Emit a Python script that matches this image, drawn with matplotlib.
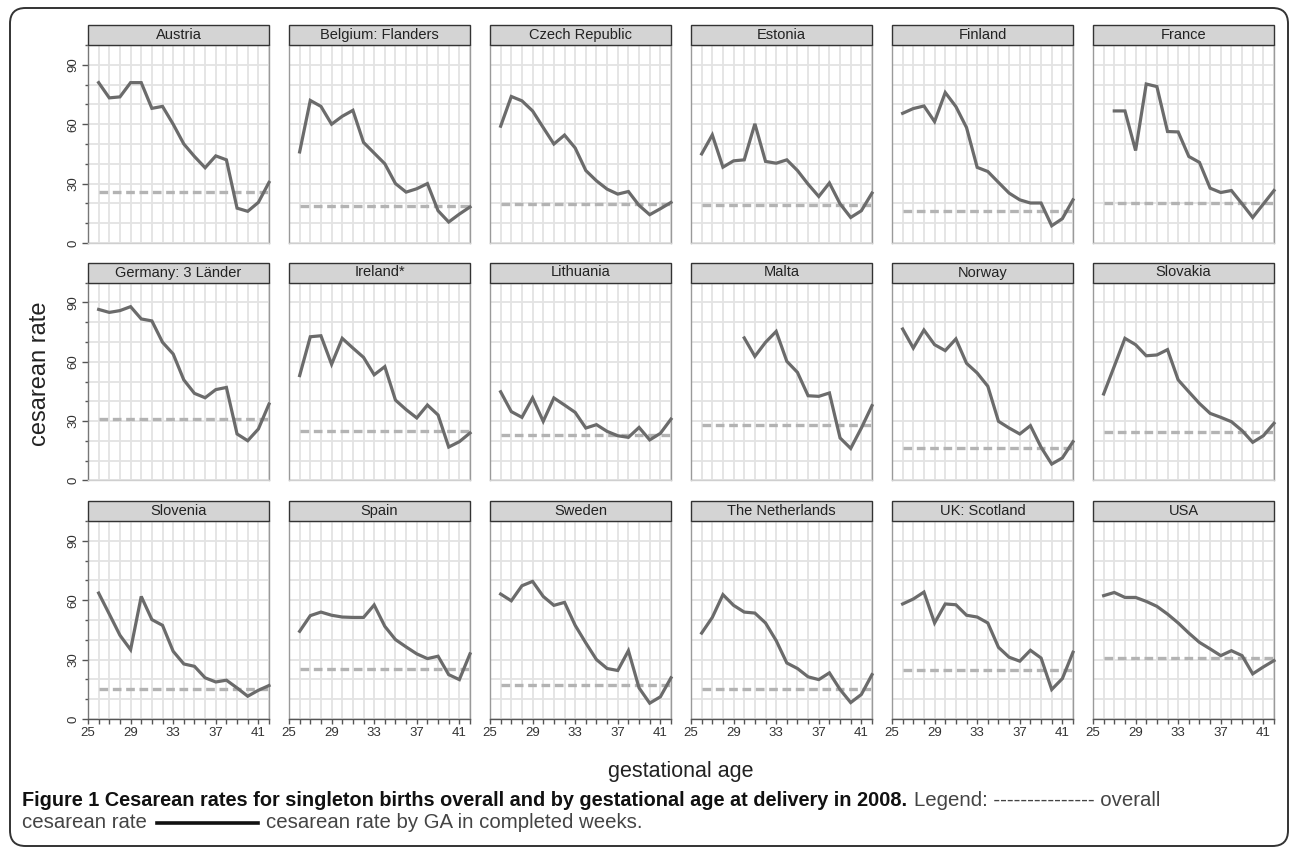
import matplotlib
matplotlib.use("Agg")
import matplotlib.pyplot as plt
from matplotlib.patches import Rectangle, FancyBboxPatch
from matplotlib.lines import Line2D
import numpy as np

nan = np.nan
weeks = list(range(26, 43))

countries = ["Austria", "Belgium: Flanders", "Czech Republic", "Estonia", "Finland", "France",
             "Germany: 3 Länder", "Ireland*", "Lithuania", "Malta", "Norway", "Slovakia",
             "Slovenia", "Spain", "Sweden", "The Netherlands", "UK: Scotland", "USA"]

austria = [81, 73.3, 73.8, 81, 81, 68, 69, 60, 50, 43.7, 38, 44, 42, 17.6, 16, 20.5, 30.6]
belgium = [46, 72, 69, 60, 64, 67, 50.8, 45.4, 40, 30, 25.7, 27.4, 30, 16.3, 10.6, 14.6, 18.2]
czech = [59, 74, 71.8, 66.7, 58.3, 50, 54.5, 48, 36.6, 31.4, 27.2, 24.7, 26, 19, 14.3, 17.3, 20.5]
estonia = [45, 54.6, 38.3, 41.5, 42, 60.2, 41.2, 40.3, 42, 36.6, 29.7, 23.5, 30.3, 19.8, 12.9, 16.3, 25.2]
finland = [65.5, 67.9, 69.2, 61.3, 76, 68.9, 58.3, 38.2, 36.1, 30.6, 25.2, 21.8, 20.2, 20.2, 8.7, 12.3, 21.8]
france = [nan, 66.7, 66.7, 46.7, 80.3, 79, 56.3, 56.1, 43.7, 40.7, 27.7, 25.5, 26.5, 19.8, 12.9, 19.7, 26.5]
germany = [86.4, 84.9, 85.8, 87.8, 81.6, 80.6, 69.8, 63.9, 50.8, 44, 41.8, 45.9, 47, 23.5, 20.1, 26, 38.6]
ireland = [53, 72.6, 73.1, 58.7, 71.8, 66.9, 62.2, 53.4, 57.5, 40.6, 35.8, 31.6, 38.1, 33.1, 16.9, 19.6, 24]
lithuania = [44.8, 34.8, 31.9, 41.7, 29.9, 41.7, 38.1, 34.4, 26.5, 28.2, 24.8, 22.6, 21.8, 26.8, 20.5, 23.8, 31]
malta = [nan, nan, nan, nan, 72, 62.7, 69.8, 75.3, 60.2, 54.6, 42.8, 42.5, 44.2, 21.5, 16.2, 26.5, 37.8]
norway = [76.5, 66.9, 76, 68.6, 65.6, 71.5, 59.2, 54.3, 47.6, 29.9, 26.5, 23.5, 27.7, 16.8, 8.3, 11.4, 19.6]
slovakia = [43.7, 57.7, 71.8, 68.6, 63, 63.4, 66.1, 50.8, 44.8, 38.9, 33.9, 31.9, 29.7, 25.2, 19.3, 22.6, 28.9]
slovenia = [63.6, 53, 42.3, 35, 61.9, 50.2, 47.3, 34.2, 27.8, 26.6, 20.8, 18.7, 19.6, 15.7, 11.5, 14.5, 16.9]
spain = [44.3, 52.2, 54, 52.4, 51.5, 51.3, 51.3, 57.6, 46.8, 40.1, 36.4, 32.9, 30.5, 31.7, 22.4, 19.9, 32.9]
sweden = [63.1, 59.7, 67.3, 69.5, 61.9, 57.4, 58.9, 47.3, 38.4, 30, 25.5, 24.5, 34.5, 15.7, 8, 11.2, 20.8]
netherlands = [43.4, 51.3, 62.8, 57.4, 54, 53.5, 48.5, 39.6, 28.3, 25.5, 21.3, 19.9, 23.3, 14.9, 8.3, 12.4, 22.4]
scotland = [58.1, 60.6, 64.1, 48.5, 58.1, 57.7, 52.4, 51.5, 48.5, 36.2, 31.2, 29.2, 34.7, 30.8, 14.9, 20.4, 33.7]
usa = [62.3, 63.9, 61.4, 61.4, 59.4, 56.9, 53, 48.5, 43.4, 38.7, 35.4, 32, 34.5, 32, 22.8, 26.3, 29.5]

series = [austria, belgium, czech, estonia, finland, france, germany, ireland, lithuania,
          malta, norway, slovakia, slovenia, spain, sweden, netherlands, scotland, usa]

overall = [25.9, 18.7, 19.7, 19.0, 16.3, 20.2, 31.0, 25.2, 23.0, 28.2, 16.4, 24.7,
           15.4, 25.5, 17.0, 14.9, 25.0, 30.8]

x_ticklabels = [25, 29, 33, 37, 41]
y_ticklabels = [0, 30, 60, 90]

W, H = 1290, 848
plt.rcParams["font.family"] = ["Liberation Sans", "DejaVu Sans"]
fig = plt.figure(figsize=(W / 100, H / 100), dpi=100)

col_left = [88, 289, 490, 691, 892, 1093]
panel_w = 181
row_top = [45, 282.5, 521]
panel_h = 198
strip_h = 20

SOLID = "#6b6b6b"
DASH = "#b3b3b3"
GRID = "#e3e3e3"

for i, (name, vals, ov) in enumerate(zip(countries, series, overall)):
    r, c = divmod(i, 6)
    ax = fig.add_axes([col_left[c] / W, 1 - (row_top[r] + panel_h) / H, panel_w / W, panel_h / H])
    ax.set_xlim(25, 42)
    ax.set_ylim(0, 100)
    ax.set_xticks(range(25, 43))
    ax.set_yticks(range(0, 101, 10))
    ax.grid(True, color=GRID, lw=1.3, zorder=0)
    ax.set_axisbelow(True)
    v = np.array(vals, dtype=float)
    ok = ~np.isnan(v)
    ax.plot([weeks[0], weeks[-1]], [ov, ov], color=DASH, lw=2.4, dashes=(2.6, 1.4),
            solid_capstyle="butt", dash_capstyle="butt", zorder=3)
    ax.plot(np.array(weeks)[ok], v[ok], color=SOLID, lw=2.3, zorder=4,
            solid_joinstyle="miter", clip_on=False)
    for s in ["left", "right"]:
        ax.spines[s].set_color("#9a9a9a")
        ax.spines[s].set_linewidth(1.0)
    for s in ["top", "bottom"]:
        ax.spines[s].set_color("#cfcfcf")
        ax.spines[s].set_linewidth(1.0)
    ax.add_patch(Rectangle((0, 1), 1, strip_h / panel_h, transform=ax.transAxes,
                           facecolor="#d4d4d4", edgecolor="#333333", lw=1.0, clip_on=False, zorder=5))
    ax.text(0.5, 1 + strip_h / panel_h / 2, name, transform=ax.transAxes, ha="center",
            va="center", fontsize=10.5, color="#222222", zorder=6)
    if c == 0:
        ax.spines["left"].set_color("#777777")
        ax.set_yticks([0, 30, 60, 90])
        ax.set_yticklabels([str(t) for t in y_ticklabels], rotation=90, va="center")
        ax.set_yticks(range(0, 101, 10), minor=True)
        ax.tick_params(axis="y", which="major", length=4, width=1, color="#555555",
                       labelsize=9.5, labelcolor="#333333", pad=2)
        ax.tick_params(axis="y", which="minor", length=2.5, width=1, color="#555555")
        ax.yaxis.grid(True, which="minor", color=GRID, lw=1.3)
    else:
        ax.tick_params(axis="y", which="both", length=0, labelleft=False)
    if r == 2:
        ax.spines["bottom"].set_color("#555555")
        ax.set_xticks(x_ticklabels)
        ax.set_xticklabels([str(t) for t in x_ticklabels])
        ax.set_xticks(range(25, 43), minor=True)
        ax.tick_params(axis="x", which="major", length=3.5, width=1, color="#555555",
                       labelsize=9.5, labelcolor="#333333", pad=2)
        ax.tick_params(axis="x", which="minor", length=3.5, width=1, color="#555555")
        ax.xaxis.grid(True, which="minor", color=GRID, lw=1.3)
    else:
        ax.tick_params(axis="x", which="both", length=0, labelbottom=False)

fig.text(40 / W, 1 - 374 / H, "cesarean rate", rotation=90, ha="center", va="center",
         fontsize=17, color="#222222")
fig.text(681 / W, 1 - 772 / H, "gestational age", ha="center", va="center",
         fontsize=15.5, color="#222222")

fig.patches.append(FancyBboxPatch((10 / W, 2 / H), 1278 / W, 838 / H,
                                  boxstyle="round,pad=0,rounding_size=0.012",
                                  transform=fig.transFigure, facecolor="none",
                                  edgecolor="#333333", lw=1.4, mutation_aspect=W / H))

# caption (sizes fitted to the reference text extents)
cap_font = "Liberation Sans"
renderer = fig.canvas.get_renderer()

def place(x0, y_px, s, x1=None, size=None, **kw):
    t = fig.text(x0 / W, 1 - y_px / H, s, ha="left", va="center", family=cap_font,
                 fontsize=10, **kw)
    if size is None:
        bb = t.get_window_extent(renderer=renderer)
        size = 10 * (x1 - x0) / bb.width
    t.set_fontsize(size)
    return t, size

_, reg = place(266, 823, "cesarean rate by GA in completed weeks.", x1=643, color="#444444")
place(22, 823, "cesarean rate", size=reg, color="#444444")
fig.lines.append(Line2D([157 / W, 258 / W], [1 - 823 / H, 1 - 823 / H],
                        transform=fig.transFigure, color="#111111", lw=2.6))
place(22, 801, "Figure 1 Cesarean rates for singleton births overall and by gestational age at delivery in 2008.",
      x1=907, fontweight="bold", color="#111111")
place(914, 801, "Legend: --------------- overall", size=reg, color="#444444")

fig.savefig("out.png", dpi=100)
